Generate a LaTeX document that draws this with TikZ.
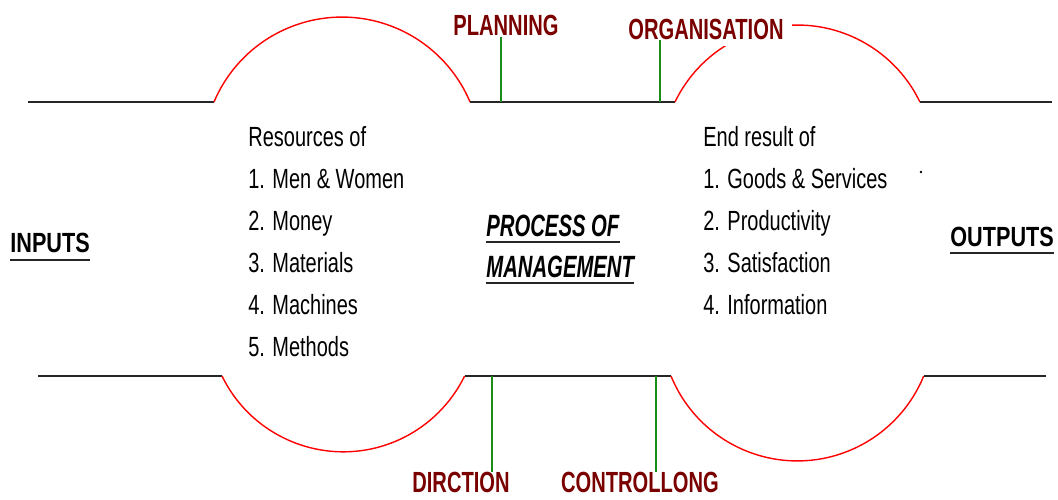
\documentclass[tikz,border=0pt]{standalone}
\usepackage{fontspec}
\setmainfont{Liberation Sans}
\newfontfamily\listfont{Liberation Sans}[FakeStretch=0.72]
\newfontfamily\tagfont{Liberation Sans}[FakeStretch=0.69]
\newfontfamily\sidefont{Liberation Sans}[FakeStretch=0.78]
\newfontfamily\procfont{Liberation Sans}[FakeStretch=0.66]
\usetikzlibrary{calc}
\definecolor{bulgered}{HTML}{FF0000}
\definecolor{tickgreen}{HTML}{1A8C1A}
\definecolor{tagred}{HTML}{7A0000}

\begin{document}
\begin{tikzpicture}[
  x=0.02cm, y=0.02cm,
  rail/.style={draw=black!85, line width=1.1pt},
  bulge/.style={draw=bulgered, line width=0.8pt},
  tick/.style={draw=tickgreen, line width=1.1pt},
  tag/.style={font=\tagfont\bfseries\fontsize{16.6}{18}\selectfont, text=tagred, inner sep=0pt, anchor=base},
  side/.style={font=\sidefont\bfseries\fontsize{15.8}{18}\selectfont, inner sep=0pt, anchor=base west},
  proc/.style={font=\procfont\bfseries\itshape\fontsize{17.5}{20}\selectfont, inner sep=0pt, anchor=base west},
  listtext/.style={font=\listfont\fontsize{15.8}{18}\selectfont, inner sep=0pt, anchor=base west},
  uline/.style={draw=black!85, line width=1.2pt}
]
  \fill[white] (0,0) rectangle (1058,500);
  \useasboundingbox (0,0) rectangle (1058,500);

  % upper rail
  \draw[rail] (28,398) -- (214,398);
  \draw[bulge] (214,398) arc[start angle=157.1, end angle=22.9, radius=2.78cm];
  \draw[rail] (470,398) -- (675,398);
  \draw[bulge] (675,398) arc[start angle=154.25, end angle=25.75, radius=2.72cm];
  \draw[rail] (920,398) -- (1052,398);

  % lower rail
  \draw[rail] (38,124) -- (222,124);
  \draw[bulge] (222,124) arc[start angle=206, end angle=334, radius=2.70cm];
  \draw[rail] (465,124) -- (671,124);
  \draw[bulge] (671,124) arc[start angle=202.2, end angle=337.8, radius=2.73cm];
  \draw[rail] (924,124) -- (1046,124);

  % functions
  \node[tag] (plan) at (506,464) {PLANNING};
  \node[tag, fill=white, inner xsep=5pt, inner ysep=3pt] (org) at (706,460) {ORGANISATION};
  \node[tag] (dirc) at (461,7) {DIRCTION};
  \node[tag] (ctrl) at (640,7) {CONTROLLONG};

  \coordinate (planfoot) at (501,398);
  \coordinate (orgfoot) at (660,398);
  \coordinate (dircfoot) at (492,124);
  \coordinate (ctrlfoot) at (656,124);

  \draw[tick] (planfoot) -- (planfoot |- plan.south);
  \draw[tick] (orgfoot) -- (orgfoot |- org.base);
  \draw[tick] (dircfoot) -- (dircfoot |- dirc.north);
  \draw[tick] (ctrlfoot) -- (ctrlfoot |- ctrl.north);

  % inputs and outputs
  \node[side] (inputs) at (10,247) {INPUTS};
  \node[side] (outputs) at (950,253) {OUTPUTS};
  \draw[uline] ([yshift=-0.14cm]inputs.base west) -- ([yshift=-0.14cm]inputs.base east);
  \draw[uline] ([yshift=-0.12cm]outputs.base west) -- ([yshift=-0.12cm]outputs.base east);

  \foreach \txt [count=\i from 0] in {Resources of, 1. Men \& Women, 2. Money, 3. Materials, 4. Machines, 5. Methods}
    \node[listtext] (res\i) at (248,353-42*\i) {\txt};
  \foreach \txt [count=\i from 0] in {End result of, 1. Goods \& Services, 2. Productivity, 3. Satisfaction, 4. Information}
    \node[listtext] (end\i) at (703,353-42*\i) {\txt};

  % centre
  \node[proc] (proc1) at (486,263) {PROCESS OF};
  \node[proc] (proc2) at (486,222) {MANAGEMENT};
  \draw[uline] ([yshift=-0.1cm]proc1.base west) -- ([yshift=-0.1cm]proc1.base east);
  \draw[uline] ([yshift=-0.1cm]proc2.base west) -- ([yshift=-0.1cm]proc2.base east);

  \fill (921,328) circle[radius=0.8pt];
\end{tikzpicture}
\end{document}
